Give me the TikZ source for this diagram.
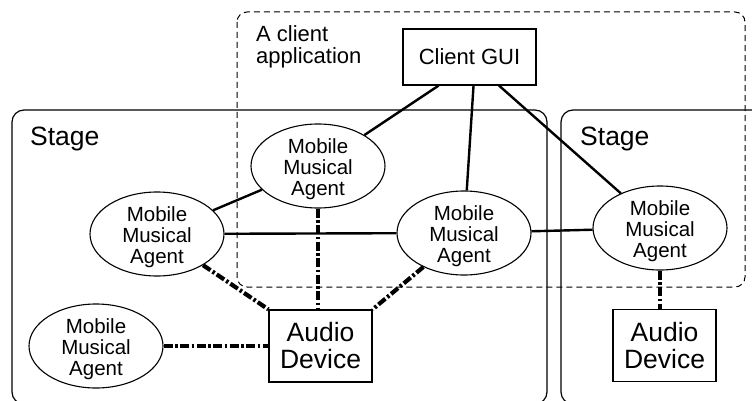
\documentclass[tikz,border=0pt]{standalone}
\usepackage{fontspec}
\setmainfont{Liberation Sans}
\usetikzlibrary{shapes.geometric,calc}
\newcommand{\agenttext}{\rule{0pt}{21pt}Mobile\\Musical\\Agent}
\begin{document}
\begin{tikzpicture}[x=1pt,y=-1pt,
  stagebox/.style={draw, line width=1.2pt, rounded corners=12pt},
  clientbox/.style={draw, line width=1pt, dash pattern=on 6pt off 4pt, rounded corners=10pt},
  agent/.style={ellipse, draw, line width=1.1pt, fill=white, minimum width=134pt, minimum height=84pt, inner xsep=0pt, inner ysep=-4pt, align=center, font=\fontsize{20.5}{21}\selectfont},
  device/.style={rectangle, draw, line width=1.2pt, fill=white, minimum width=103pt, minimum height=72pt, inner sep=0pt, align=center, font=\fontsize{26.5}{27}\selectfont},
  gui/.style={rectangle, draw, line width=1.2pt, fill=white, minimum width=133pt, minimum height=56pt, inner sep=0pt, font=\fontsize{22}{22}\selectfont},
  label/.style={inner sep=0pt, align=left},
  link/.style={line width=2.4pt},
  audiolink/.style={line width=4.2pt, dash pattern=on 9pt off 2.5pt on 2.5pt off 2.5pt}
]
\useasboundingbox (0,0) rectangle (752,401);
\clip (0,0) rectangle (752,401);
\fill[white] (0,0) rectangle (752,401);

% containers
\draw[stagebox] (12,110) rectangle (547,404);
\draw[stagebox] (561,110) rectangle (780,404);
\draw[clientbox] (237,12) rectangle (745,287);

% labels
\node[label, anchor=base west, font=\fontsize{26.5}{27}\selectfont] (stageL) at (30,146) {Stage};
\node[label, anchor=base west, font=\fontsize{26.5}{27}\selectfont] (stageR) at (580,146) {Stage};
\node[label, anchor=west, font=\fontsize{22}{22}\selectfont] (clientlbl) at (256,47) {A client\\application};

% nodes
\node[gui] (GUI) at (469.5,57) {Client GUI};
\node[agent] (E1) at (318,166) {\agenttext};
\node[agent] (E2) at (157,234) {\agenttext};
\node[agent] (E3) at (464,233) {\agenttext};
\node[agent] (E4) at (660,228) {\agenttext};
\node[agent] (E5) at (96,346) {\agenttext};
\node[device] (AD) at (320.5,346) {Audio\\Device};
\node[device] (ADR) at (664.5,345.5) {Audio\\Device};

% control links
\coordinate (g1) at ($(GUI.south west)!0.27!(GUI.south east)$);
\coordinate (g2) at ($(GUI.south west)!0.53!(GUI.south east)$);
\coordinate (g3) at ($(GUI.south west)!0.72!(GUI.south east)$);
\draw[link] (g1) -- (E1);
\draw[link] (g2) -- (E3);
\draw[link] (g3) -- (E4);
\draw[link] (E2) -- (E1);
\draw[link] (E2) -- (E3);
\draw[link] (E3) -- (E4);

% audio links
\draw[audiolink] (E1.south) -- (E1.south |- AD.north);
\draw[audiolink] (E2) -- (AD.north west);
\draw[audiolink] (E3) -- (AD.north east);
\draw[audiolink] (E5) -- (AD);
\draw[audiolink] (E4.south) -- (E4.south |- ADR.north);
\end{tikzpicture}
\end{document}
